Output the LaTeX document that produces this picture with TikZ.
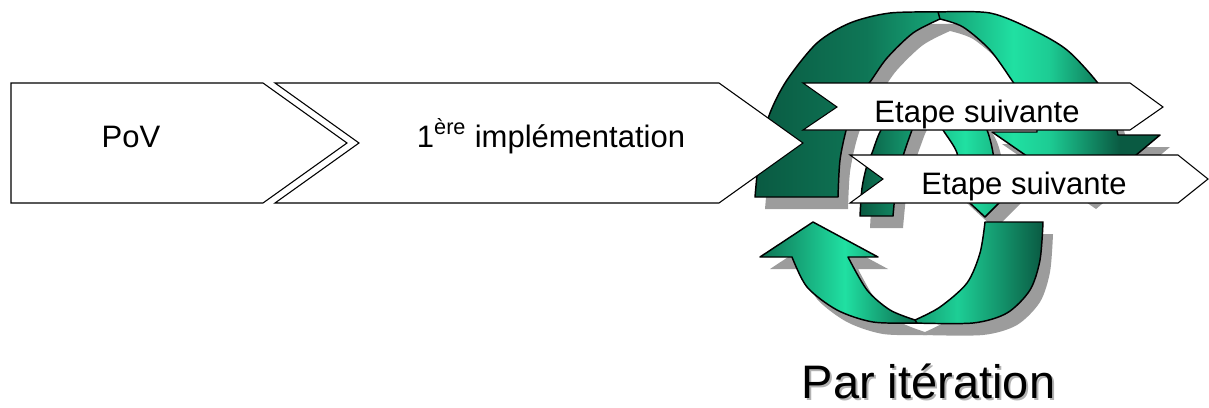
\documentclass[tikz,border=0pt]{standalone}
\usepackage{fontspec}
\setmainfont{Liberation Sans}
\definecolor{gD}{HTML}{0A5A42}
\definecolor{gM}{HTML}{14996F}
\definecolor{gL}{HTML}{20E0A2}
\definecolor{shd}{HTML}{9C9C9C}

% horizontal gradients for the ribbon pieces (path box = 25bp..75bp)
\pgfdeclarehorizontalshading{ribTopR}{100bp}{color(0bp)=(gM); color(25bp)=(gM); color(42bp)=(gL); color(50bp)=(gL!85!gD); color(66bp)=(gD); color(100bp)=(gD)}
\pgfdeclarehorizontalshading{ribTopL}{100bp}{color(0bp)=(gD); color(25bp)=(gD); color(55bp)=(gD!55!gM); color(75bp)=(gM!80!gL); color(100bp)=(gM!80!gL)}
\pgfdeclarehorizontalshading{ribBotL}{100bp}{color(0bp)=(gD!60!gM); color(25bp)=(gD!60!gM); color(52bp)=(gL); color(75bp)=(gD!80!gM); color(100bp)=(gD!80!gM)}
\pgfdeclarehorizontalshading{ribBotR}{100bp}{color(0bp)=(gM); color(25bp)=(gM); color(42bp)=(gL!75!gM); color(75bp)=(gD); color(100bp)=(gD)}
\pgfdeclarehorizontalshading{ribMidL}{100bp}{color(0bp)=(gD); color(25bp)=(gD); color(75bp)=(gM!70!gL); color(100bp)=(gM!70!gL)}
\pgfdeclarehorizontalshading{ribMidR}{100bp}{color(0bp)=(gM!60!gL); color(25bp)=(gM!60!gL); color(45bp)=(gL); color(75bp)=(gM); color(100bp)=(gM)}

% outlines of the ribbon pieces (pixel grid, y downwards)
\newcommand\pTopL{plot[smooth] coordinates {(755,197)(760,150)(770,113)(787,80)(817,43)(850,23)(890,13)(942,12)}
  -- plot[smooth] coordinates {(940,19)(913,33)(887,58)(870,82)(858,97)(847,127)(840,160)(838,197)} -- cycle}
\newcommand\pTopR{plot[smooth] coordinates {(938,12)(990,13)(1033,30)(1067,50)(1097,82)(1110,105)(1118,135)}
  -- (1160,135) -- (1086,197) -- (992,132) -- (1037,132)
  -- plot[smooth] coordinates {(1037,130)(1028,105)(1013,82)(990,50)(963,27)(940,19)} -- cycle}
\newcommand\pMidL{plot[smooth] coordinates {(860,216)(862,188)(867,165)(872,153)(881,130)(898,108)(929,94)}
  -- plot[smooth] coordinates {(927,106)(917,118)(912,130)(904,153)(897,178)(893,216)} -- cycle}
\newcommand\pMidR{plot[smooth] coordinates {(927,94)(958,100)(976,112)(987,130)(993,153)(995,180)}
  -- (1022,180) -- (985,217) -- (945,180)
  -- plot[smooth] coordinates {(959,180)(957,153)(943,130)(935,116)(927,106)} -- cycle}
\newcommand\pBotR{(985,222) -- plot[smooth] coordinates {(1043,222)(1040,260)(1030,290)(1007,313)(973,323)(913,323)}
  -- plot[smooth] coordinates {(915,320)(940,307)(967,283)(980,253)(985,222)} -- cycle}
\newcommand\pBotL{plot[smooth] coordinates {(917,323)(873,322)(837,310)(807,287)(792,257)}
  -- (760,257) -- (813,222) -- (878,257)
  -- plot[smooth] coordinates {(848,257)(867,290)(890,310)(915,320)} -- cycle}

\tikzset{
  ribbon/.style={draw=black, line width=1.1pt, line join=round},
  ribshadow/.style={fill=shd, shift={(10,12)}},
  chevron/.style={draw=black, fill=white, line width=0.8pt, line join=miter},
  label/.style={font=\fontsize{23.25pt}{26pt}\selectfont, anchor=base, inner sep=0pt},
  biglabel/.style={label, font=\fontsize{35.25pt}{40pt}\selectfont, text depth=0pt},
}

\begin{document}
\begin{tikzpicture}[x=0.75pt, y=-0.75pt]
\useasboundingbox (0,0) rectangle (1209,407);

% drop shadows of the cycle arrows
\fill[ribshadow] \pBotR;
\fill[ribshadow] \pBotL;
\fill[ribshadow] \pMidL;
\fill[ribshadow] \pMidR;
\fill[ribshadow] \pTopL;
\fill[ribshadow] \pTopR;

% lower arrow
\path[ribbon, shading=ribBotR] \pBotR;
\path[ribbon, shading=ribBotL] \pBotL;

% small inner arrow
\path[ribbon, shading=ribMidL] \pMidL;
\path[ribbon, shading=ribMidR] \pMidR;

% large upper arrow
\path[ribbon, shading=ribTopL] \pTopL;
\path[ribbon, shading=ribTopR] \pTopR;

% chevron steps
\draw[chevron] (11,83) -- (263,83) -- (347,143) -- (263,203) -- (11,203) -- cycle;
\draw[chevron] (275,83) -- (719,83) -- (803,143) -- (719,203) -- (275,203) -- (359,143) -- cycle;
\draw[chevron] (803,83) -- (1130,83) -- (1163,107) -- (1130,130) -- (803,130) -- (837,107) -- cycle;
\draw[chevron] (850,155) -- (1178,155) -- (1208,179) -- (1178,203) -- (850,203) -- (883,179) -- cycle;

\node[label] (pov) at (131,147) {PoV};
\node[label] (impl) at (551,147) {1\textsuperscript{ère} implémentation};
\node[label] (next1) at (977,122) {Etape suivante};
\node[label] (next2) at (1024,194) {Etape suivante};

\node[biglabel, text=black!30] (itershadow) at (930.5,400) {Par itération};
\node[biglabel] (iter) at (928.5,398) {Par itération};
\end{tikzpicture}
\end{document}
